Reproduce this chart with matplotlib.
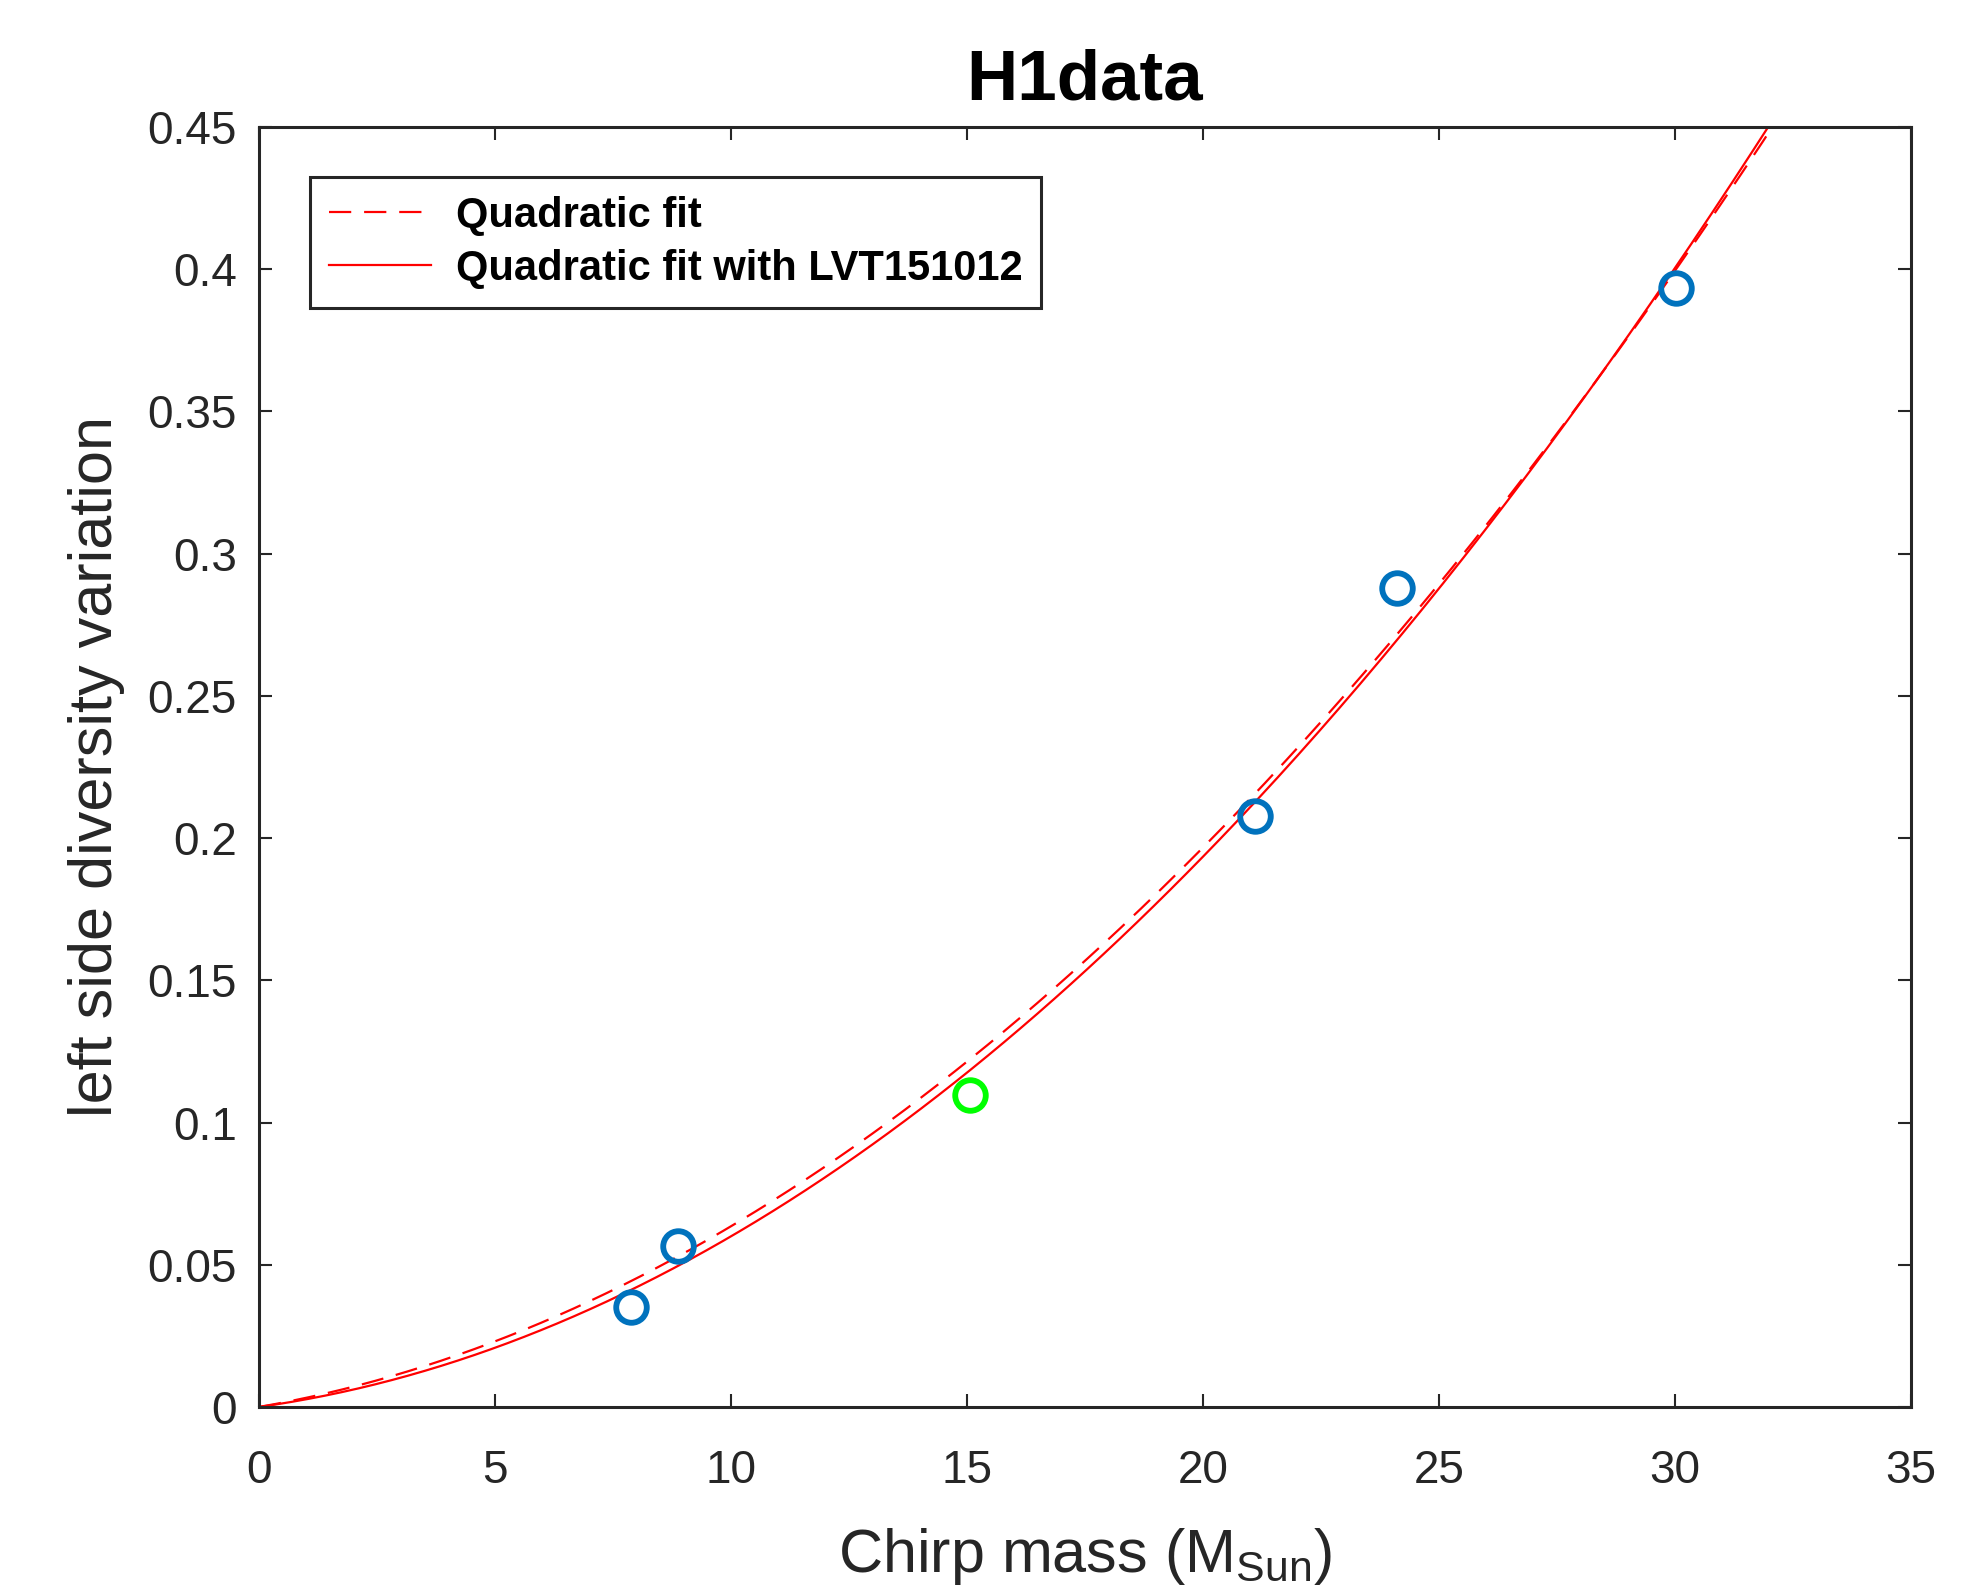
import numpy as np
import matplotlib
matplotlib.use("Agg")
import matplotlib.pyplot as plt

plt.rcParams['font.family'] = ['Liberation Sans', 'DejaVu Sans']
plt.rcParams['mathtext.fontset'] = 'custom'
plt.rcParams['mathtext.rm'] = 'Liberation Sans'

# data
chirp_mass = [7.88, 8.88, 21.09, 24.10, 30.02]
diversity = [0.0352, 0.0566, 0.2077, 0.2879, 0.3935]
lvt_mass = [15.07]
lvt_div = [0.1096]

x_ticks = [0, 5, 10, 15, 20, 25, 30, 35]
y_ticks = [0, 0.05, 0.1, 0.15, 0.2, 0.25, 0.3, 0.35, 0.4, 0.45]
y_ticklabels = ['0', '0.05', '0.1', '0.15', '0.2', '0.25', '0.3', '0.35', '0.4', '0.45']

def quad_fit(x, y):
    x = np.asarray(x); y = np.asarray(y)
    A = np.vstack([x**2, x]).T
    coef, *_ = np.linalg.lstsq(A, y, rcond=None)
    return coef

c1 = quad_fit(chirp_mass, diversity)
c2 = quad_fit(chirp_mass + lvt_mass, diversity + lvt_div)
xs = np.linspace(0, 35, 400)

fig = plt.figure(figsize=(19.88, 15.86), dpi=100)
ax = fig.add_axes([0.1303, 0.1129, 0.8310, 0.8070])

ax.plot(xs, c1[0]*xs**2 + c1[1]*xs, color='#ff0000', lw=1.6,
        linestyle=(0, (10.0, 5.8)), label='Quadratic fit')
ax.plot(xs, c2[0]*xs**2 + c2[1]*xs, color='#ff0000', lw=1.6,
        label='Quadratic fit with LVT151012')
ax.plot(chirp_mass, diversity, 'o', mfc='none', mec='#0072BD', ms=22, mew=4.2)
ax.plot(lvt_mass, lvt_div, 'o', mfc='none', mec='#00ff00', ms=22, mew=4.2)

ax.set_xlim(0, 35)
ax.set_ylim(0, 0.45)
ax.set_xticks(x_ticks)
ax.set_xticklabels([str(t) for t in x_ticks])
ax.set_yticks(y_ticks)
ax.set_yticklabels(y_ticklabels)
ax.tick_params(direction='in', length=9.5, width=1.5, top=True, right=True,
               labelsize=33, colors='#262626')
ax.tick_params(axis='x', pad=30)
ax.tick_params(axis='y', pad=16)
for s in ax.spines.values():
    s.set_linewidth(2.2)
    s.set_color('#262626')

ax.set_title('H1data', fontsize=51, fontweight='bold', pad=20)
ax.set_xlabel(r'Chirp mass (M$_{\mathrm{Sun}}$)', fontsize=44, color='#262626', labelpad=24)
ax.set_ylabel('left side diversity variation', fontsize=44, color='#262626', labelpad=16)

leg = ax.legend(loc='upper left', bbox_to_anchor=(0.031, 0.961), fancybox=False,
                edgecolor='#262626', framealpha=1, prop={'weight': 'bold', 'size': 30},
                handlelength=2.45, handletextpad=0.6, borderpad=0.45, labelspacing=0.32,
                borderaxespad=0)
leg.get_frame().set_linewidth(2.2)

fig.savefig('out.png', dpi=100)
